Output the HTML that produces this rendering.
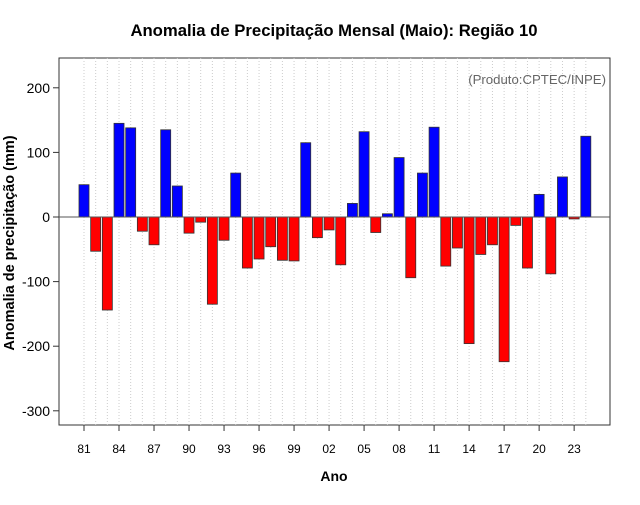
<!DOCTYPE html>
<html><head><meta charset="utf-8"><style>
body{margin:0;background:#fff;}
svg text{font-family:"Liberation Sans",Arial,sans-serif;}
</style></head><body>
<svg id="chart" width="640" height="500">
<text x="334" y="36" text-anchor="middle" font-size="16.7" font-weight="bold">Anomalia de Precipitação Mensal (Maio): Região 10</text>
<rect x="59" y="58" width="551" height="367" fill="none" stroke="#333" stroke-width="1"/>
<g id="grid"></g><g id="bars"></g><g id="axes"></g>
<text x="606" y="84" text-anchor="end" font-size="13.2" fill="#666">(Produto:CPTEC/INPE)</text>
<text x="334" y="481" text-anchor="middle" font-size="14" font-weight="bold">Ano</text>
<text transform="translate(14,243) rotate(-90)" text-anchor="middle" font-size="14.5" font-weight="bold">Anomalia de precipitação (mm)</text>
</svg>
<script>
const years=[];for(let y=1981;y<=2024;y++)years.push(y);
const values=[50,-53,-144,145,138,-22,-43,135,48,-25,-8,-135,-36,68,-79,-65,-46,-67,-68,115,-32,-20,-74,21,132,-24,5,92,-94,68,139,-76,-48,-196,-58,-43,-224,-13,-79,35,-88,62,-3,125];
const yTicks=[-300,-200,-100,0,100,200];
const xTickYears=[1981,1984,1987,1990,1993,1996,1999,2002,2005,2008,2011,2014,2017,2020,2023];
const NS="http://www.w3.org/2000/svg";
function yS(v){return 217-v*0.646;}
function xS(yr){return 84+(yr-1981)*11.67;}
function mk(tag,attrs,parent){const e=document.createElementNS(NS,tag);for(const k in attrs)e.setAttribute(k,attrs[k]);document.getElementById(parent).appendChild(e);return e;}
years.forEach(yr=>{
  const l=mk('line',{x1:xS(yr),x2:xS(yr),y1:58,y2:425,stroke:'#ccc','stroke-dasharray':'1,2'},'grid');
  
  
});
values.forEach((v,i)=>{
  const x=xS(years[i])-5, y0=yS(0), y1=yS(v);
  const r=mk('rect',{x:x,y:Math.min(y0,y1),width:10,height:Math.max(Math.abs(y1-y0),1),fill:v>=0?'#0000ff':'#ff0000',stroke:'#333','stroke-width':0.8},'bars');
  
  
});
const zl=mk('line',{x1:59,x2:610,y1:yS(0),y2:yS(0),stroke:'#555','stroke-width':1},'axes');


yTicks.forEach(t=>{
  const tk=mk('line',{x1:53,x2:59,y1:yS(t),y2:yS(t),stroke:'#333'},'axes');
  
  
  const tx=mk('text',{x:50,y:yS(t)+5,'text-anchor':'end','font-size':14},'axes');
  tx.textContent=t;
  
  
});
xTickYears.forEach(yr=>{
  const tk=mk('line',{x1:xS(yr),x2:xS(yr),y1:425,y2:431,stroke:'#333'},'axes');
  
  
  const tx=mk('text',{x:xS(yr),y:453,'text-anchor':'middle','font-size':12},'axes');
  tx.textContent=String(yr%100).padStart(2,'0');
  
  
});
</script>
</body></html>
